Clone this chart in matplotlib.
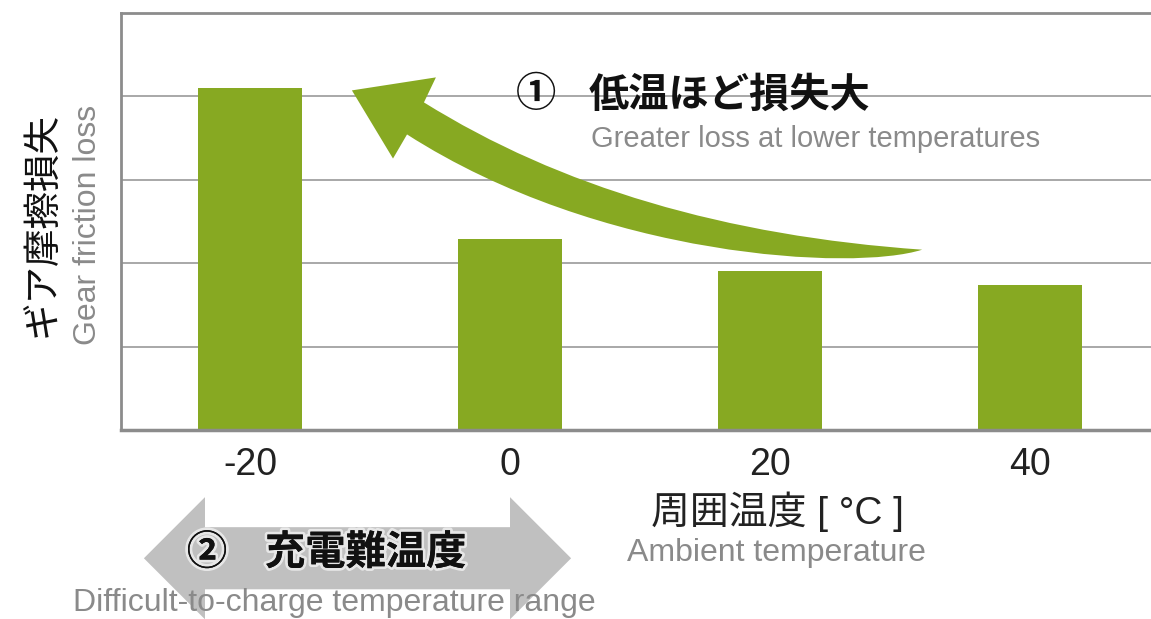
import matplotlib
matplotlib.use("Agg")
import matplotlib.pyplot as plt
from matplotlib.path import Path
from matplotlib.patches import PathPatch, Polygon
import matplotlib.patheffects as pe

# データ
temps = ["-20", "0", "20", "40"]
loss = [4.10, 2.29, 1.91, 1.74]

GREEN = "#87a922"
GRAY_TXT = "#8a8a8a"
JP = ["Noto Sans CJK JP", "DejaVu Sans"]
EN = ["Liberation Sans", "DejaVu Sans"]

W, H = 1151, 619
fig = plt.figure(figsize=(W / 100, H / 100), dpi=100)


def fx(x, y):
    # ピクセル位置 -> figure座標
    return x / W, 1 - y / H


ax = fig.add_axes([121 / W, 1 - 430 / H, 1 - 121 / W, (430 - 13) / H])
x = range(len(temps))
ax.bar(x, loss, width=0.4, color=GREEN, zorder=2)
ax.set_xlim(-0.496, 3.465)
ax.set_ylim(0, 5)
ax.set_yticks([1, 2, 3, 4])
ax.set_yticklabels([])
ax.tick_params(axis="y", length=0)
ax.set_xticks(list(x))
ax.set_xticklabels(temps, fontsize=27, family=EN, color="#222222")
ax.tick_params(axis="x", length=0, pad=12)
ax.grid(axis="y", color="#999999", linewidth=1.2, zorder=0)
ax.set_axisbelow(True)
ax.spines["right"].set_visible(False)
for s in ["top", "left"]:
    ax.spines[s].set_color("#8c8c8c")
    ax.spines[s].set_linewidth(2)
ax.spines["bottom"].set_color("#8c8c8c")
ax.spines["bottom"].set_linewidth(2.5)

# 緑の曲線矢印（低温ほど損失大）
verts = [
    (0.392, 4.072),   # 先端
    (0.715, 4.228),
    (0.669, 3.928),
    (1.450, 2.408), (2.585, 2.162),
    (2.320, 1.900), (1.346, 2.060), (0.604, 3.544),
    (0.550, 3.255),
    (0.392, 4.072),
]
codes = [Path.MOVETO, Path.LINETO, Path.LINETO,
         Path.CURVE3, Path.CURVE3,
         Path.CURVE4, Path.CURVE4, Path.CURVE4,
         Path.LINETO, Path.CLOSEPOLY]
ax.add_patch(PathPatch(Path(verts, codes), facecolor=GREEN, edgecolor="none",
                       zorder=3, clip_on=False))

# 灰色の両矢印（充電難温度）
dbl = [(-0.408, -1.538), (-0.173, -0.805), (-0.173, -1.165), (1.0, -1.165),
       (1.0, -0.805), (1.235, -1.538), (1.0, -2.270), (1.0, -1.910),
       (-0.173, -1.910), (-0.173, -2.270)]
ax.add_patch(Polygon(dbl, closed=True, facecolor="#c0c0c0", edgecolor="none",
                     clip_on=False, zorder=1))

# テキスト
fig.text(*fx(43, 225), "ギア摩擦損失", rotation=90, fontsize=27, family=JP,
         color="#111111", ha="center", va="center")
fig.text(*fx(88, 225), "Gear friction loss", rotation=90, fontsize=23, family=EN,
         color=GRAY_TXT, ha="center", va="center")

fig.text(*fx(536, 95), "①", fontsize=29, family=JP,
         fontweight="bold", color="#111111", ha="center", va="center")
fig.text(*fx(589, 95), "低温ほど損失大", fontsize=29, family=JP,
         fontweight="bold", color="#111111", ha="left", va="center")
fig.text(*fx(591, 139), "Greater loss at lower temperatures", fontsize=21,
         family=EN, color=GRAY_TXT, ha="left", va="center")

fig.text(*fx(777, 512), "周囲温度 [ °C ]", fontsize=28,
         family=["Liberation Sans", "Noto Sans CJK JP"],
         color="#222222", ha="center", va="center")
fig.text(*fx(776, 553), "Ambient temperature", fontsize=23, family=EN,
         color=GRAY_TXT, ha="center", va="center")

glow = [pe.withStroke(linewidth=4, foreground="#f2f2f2", alpha=0.8), pe.Normal()]
t1 = fig.text(*fx(207, 553), "②", fontsize=29, family=JP,
              fontweight="bold", color="#111111", ha="center", va="center")
t2 = fig.text(*fx(265, 553), "充電難温度", fontsize=29, family=JP,
              fontweight="bold", color="#111111", ha="left", va="center")
t1.set_path_effects(glow)
t2.set_path_effects(glow)
fig.text(*fx(73, 603), "Difficult-to-charge temperature range", fontsize=23,
         family=EN, color=GRAY_TXT, ha="left", va="center")

fig.savefig("out.png", dpi=100)
